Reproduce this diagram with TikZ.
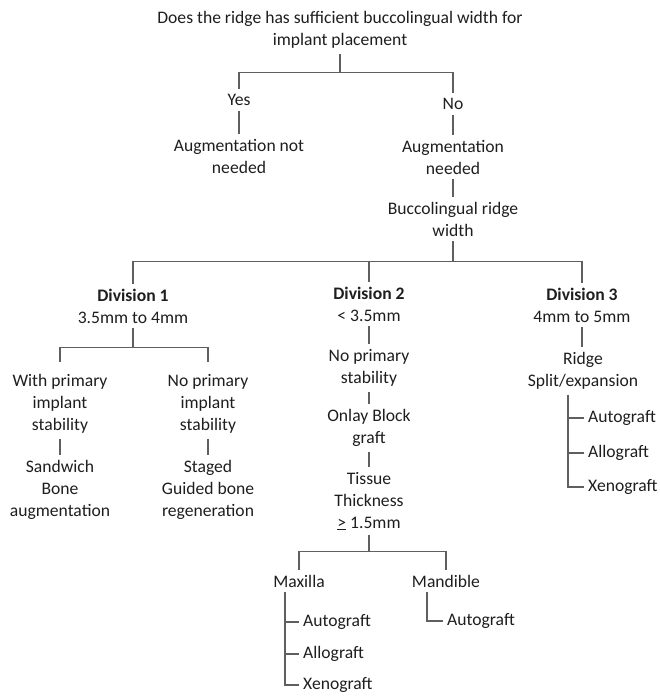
\documentclass[tikz,border=0pt]{standalone}
\usepackage{fontspec}
\setmainfont{Carlito}
\usepackage{tikz}
\definecolor{inkgray}{RGB}{30,30,30}
\definecolor{linegray}{RGB}{95,95,95}

\begin{document}
\begin{tikzpicture}[x=1pt, y=-1pt,
	lbl/.style={align=center, text=inkgray, inner xsep=2pt, inner ysep=5pt, font=\fontsize{17.6}{22}\selectfont},
	graft/.style={lbl, anchor=west, inner xsep=4pt},
	conn/.style={draw=linegray, line width=1.4pt},
	drop/.style={conn, shorten >=7pt}]
			%%%%% START %%%%%
			
			\useasboundingbox (0, 0) rectangle (660, 696);
			
			\node[lbl] (ask) at (340, 30) {Does the ridge has sufficient buccolingual width for\\implant placement};
			\node[lbl] (yes) at (239, 100) {Yes};
			\node[lbl] (no) at (453, 104) {No};
			\node[lbl] (notneed) at (239, 156) {Augmentation not\\needed};
			\node[lbl] (need) at (453, 157) {Augmentation\\needed};
			\node[lbl] (bwidth) at (453, 219) {Buccolingual ridge\\width};
			
			\draw[conn] (ask.south) -- ++(0, 19) coordinate (askbar) -| (yes.north);
			\draw[conn] (askbar) -| (no.north);
			\draw[conn] (yes.south) -- (yes.south |- notneed.north);
			\draw[conn] (no.south) -- (no.south |- need.north);
			\draw[conn] (need.south) -- (need.south |- bwidth.north);
			
			\node[lbl] (divone) at (133, 306) {\textbf{Division 1}\\3.5mm to 4mm};
			\node[lbl] (divtwo) at (369, 304) {\textbf{Division 2}\\< 3.5mm};
			\node[lbl] (divthree) at (582, 305) {\textbf{Division 3}\\4mm to 5mm};
			
			\draw[conn] (bwidth.south) -- ++(0, 20) coordinate (divbar) -| (divone.north);
			\draw[conn] (divbar) -| (divtwo.north);
			\draw[conn] (divbar) -| (divthree.north);
			
			\node[lbl] (withstab) at (60, 404) {With primary\\implant\\stability};
			\node[lbl] (nostab) at (208, 404) {No primary\\implant\\stability};
			\node[lbl] (sandwich) at (60, 490) {Sandwich\\Bone\\augmentation};
			\node[lbl] (staged) at (208, 490) {Staged\\Guided bone\\regeneration};
			
			\draw[conn] (divone.south) -- ++(0, 19) coordinate (onebar);
			\draw[drop] (onebar) -| (withstab.north);
			\draw[drop] (onebar) -| (nostab.north);
			\draw[conn] (withstab.south) -- (withstab.south |- sandwich.north);
			\draw[conn] (nostab.south) -- (nostab.south |- staged.north);
			
			\node[lbl] (nostabtwo) at (369, 368) {No primary\\stability};
			\node[lbl] (onlay) at (369, 428) {Onlay Block\\graft};
			\node[lbl] (tissue) at (369, 501) {Tissue\\Thickness\\\underline{>} 1.5mm};
			
			\draw[conn] (divtwo.south) -- (divtwo.south |- nostabtwo.north);
			\draw[conn] (nostabtwo.south) -- (nostabtwo.south |- onlay.north);
			\draw[conn] (onlay.south) -- (onlay.south |- tissue.north);
			
			\node[lbl] (maxilla) at (299, 581) {Maxilla};
			\node[lbl] (mandible) at (446, 581) {Mandible};
			
			\draw[conn] (tissue.south) -- ++(0, 16) coordinate (jawbar) -| (maxilla.north);
			\draw[conn] (jawbar) -| (mandible.north);
			
			\node[graft] (automax) at (299, 622) {Autograft};
			\node[graft] (allomax) at (299, 654) {Allograft};
			\node[graft] (xenomax) at (299, 685) {Xenograft};
			\draw[conn] ([xshift=-14pt]maxilla.south) |- (xenomax.west);
			\draw[conn] ([xshift=-14pt]maxilla.south |- automax.west) -- (automax.west);
			\draw[conn] ([xshift=-14pt]maxilla.south |- allomax.west) -- (allomax.west);
			
			\node[graft] (automand) at (443, 621) {Autograft};
			\draw[conn] ([xshift=-19pt]mandible.south) |- (automand.west);
			
			\node[lbl] (ridge) at (583, 371) {Ridge\\Split/expansion};
			\draw[conn] (divthree.south) -- (divthree.south |- ridge.north);
			
			\node[graft] (autothree) at (584, 418) {Autograft};
			\node[graft] (allothree) at (584, 453) {Allograft};
			\node[graft] (xenothree) at (584, 487) {Xenograft};
			\draw[conn] ([xshift=-15pt]ridge.south) |- (xenothree.west);
			\draw[conn] ([xshift=-15pt]ridge.south |- autothree.west) -- (autothree.west);
			\draw[conn] ([xshift=-15pt]ridge.south |- allothree.west) -- (allothree.west);
			
			%%%%% END %%%%%
\end{tikzpicture}
\end{document}
